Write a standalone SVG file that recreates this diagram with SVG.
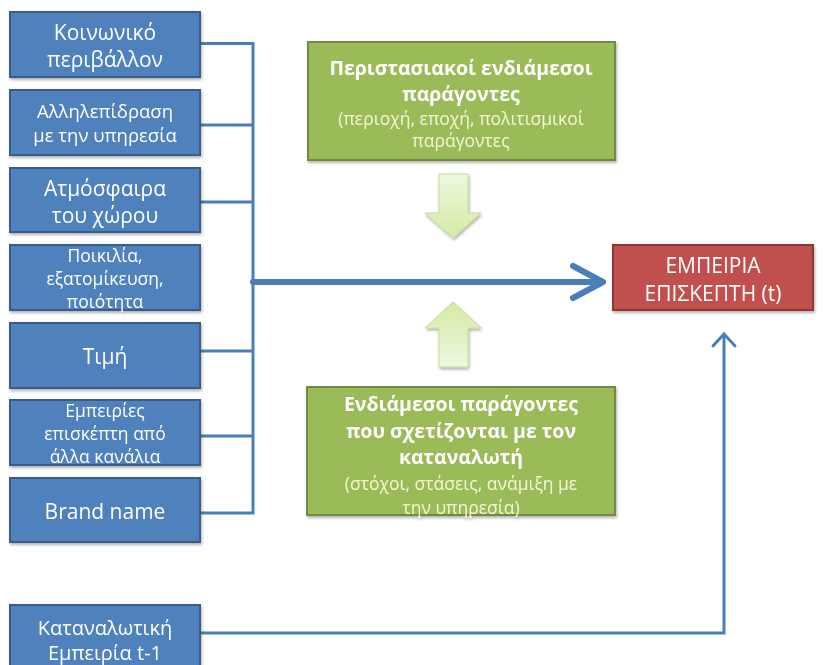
<svg xmlns="http://www.w3.org/2000/svg" width="823" height="665" viewBox="0 0 823 665">
  <defs>
    <filter id="shadow" x="-10%" y="-10%" width="125%" height="135%">
      <feDropShadow dx="1" dy="2" stdDeviation="1.5" flood-color="#000" flood-opacity="0.3"/>
    </filter>
    <linearGradient id="gDown" x1="0" y1="0" x2="0" y2="1">
      <stop offset="0" stop-color="#EEF8DE"/>
      <stop offset="1" stop-color="#D3EBA5"/>
    </linearGradient>
    <linearGradient id="gUp" x1="0" y1="1" x2="0" y2="0">
      <stop offset="0" stop-color="#EEF8DE"/>
      <stop offset="1" stop-color="#D3EBA5"/>
    </linearGradient>
    <style>
      .blue { fill: #4F81BD; stroke: #385D8A; stroke-width: 2; }
      .green { fill: #9BBB59; stroke: #71893F; stroke-width: 2; }
      .red { fill: #C0504D; stroke: #8C3836; stroke-width: 2; }
      .lbl { font-family: "Open Sans", "Noto Sans", "DejaVu Sans", sans-serif; fill: #FFFFFF; text-anchor: middle; dominant-baseline: central; }
      .box { font-size: 21px; }
      .low { font-size: 20px; }
      .mid { font-size: 18.5px; }
      .tight { font-size: 17.5px; }
      .bold { font-size: 19.5px; font-weight: bold; }
      .sub { font-size: 17.5px; fill: #F6F6D6; }
      .wire { fill: none; stroke: #4A7EBB; stroke-width: 3; stroke-linejoin: miter; }
      .big { fill: none; stroke: #4A7EBB; stroke-width: 6; stroke-linecap: round; stroke-linejoin: round; }
      .blk { stroke: #C3DC98; stroke-width: 1; }
    </style>
  </defs>

  <!-- connectors -->
  <g id="connectors">
    <path class="wire" d="M200 43.5 H253 M200 125 H253 M200 202 H253 M200 351 H253 M200 436 H253 M200 513 H253 M253 42 V514.5"/>
    <path class="big" d="M253 282 H600 M573 266 L603 282 L573 298"/>
    <path class="wire" d="M200 633 H724 V334"/>
    <path class="wire" stroke-linecap="round" d="M713 346 L724 334 L735 346"/>
  </g>

  <!-- left column -->
  <g id="n-koinoniko" filter="url(#shadow)">
    <rect class="blue" x="10" y="12" width="190" height="65"/>
    <text class="lbl box" x="105" y="32">Κοινωνικό</text>
    <text class="lbl box" x="105" y="59">περιβάλλον</text>
  </g>
  <g id="n-allilepidrasi" filter="url(#shadow)">
    <rect class="blue" x="10" y="90" width="190" height="65"/>
    <text class="lbl mid" x="105" y="110">Αλληλεπίδραση</text>
    <text class="lbl mid" x="105" y="134">με την υπηρεσία</text>
  </g>
  <g id="n-atmosfaira" filter="url(#shadow)">
    <rect class="blue" x="10" y="168" width="190" height="64"/>
    <text class="lbl box" x="105" y="188">Ατμόσφαιρα</text>
    <text class="lbl box" x="105" y="215">του χώρου</text>
  </g>
  <g id="n-poikilia" filter="url(#shadow)">
    <rect class="blue" x="10" y="245" width="190" height="65"/>
    <text class="lbl tight" x="105" y="255">Ποικιλία,</text>
    <text class="lbl tight" x="105" y="278">εξατομίκευση,</text>
    <text class="lbl tight" x="105" y="301">ποιότητα</text>
  </g>
  <g id="n-timi" filter="url(#shadow)">
    <rect class="blue" x="10" y="323" width="190" height="65"/>
    <text class="lbl box" x="105" y="356">Τιμή</text>
  </g>
  <g id="n-empeiries" filter="url(#shadow)">
    <rect class="blue" x="10" y="400" width="190" height="65"/>
    <text class="lbl tight" x="105" y="410">Εμπειρίες</text>
    <text class="lbl tight" x="105" y="433">επισκέπτη από</text>
    <text class="lbl tight" x="105" y="456">άλλα κανάλια</text>
  </g>
  <g id="n-brand" filter="url(#shadow)">
    <rect class="blue" x="10" y="478" width="190" height="64"/>
    <text class="lbl box" x="105" y="511">Brand name</text>
  </g>
  <g id="n-katanalotiki" filter="url(#shadow)">
    <rect class="blue" x="10" y="605" width="190" height="70"/>
    <text class="lbl low" x="105" y="627">Καταναλωτική</text>
    <text class="lbl low" x="105" y="652">Εμπειρία t-1</text>
  </g>

  <!-- mediating factors -->
  <g id="n-peristasiakoi" filter="url(#shadow)">
    <rect class="green" x="308" y="42" width="307" height="118"/>
    <text class="lbl bold" x="461" y="67">Περιστασιακοί  ενδιάμεσοι</text>
    <text class="lbl bold" x="461" y="93">παράγοντες</text>
    <text class="lbl sub" x="461" y="118">(περιοχή, εποχή, πολιτισμικοί</text>
    <text class="lbl sub" x="461" y="140">παράγοντες</text>
  </g>
  <g id="n-endiamesoi" filter="url(#shadow)">
    <rect class="green" x="307" y="387" width="308" height="128"/>
    <text class="lbl bold" x="461" y="403">Ενδιάμεσοι παράγοντες</text>
    <text class="lbl bold" x="461" y="430">που σχετίζονται  με τον</text>
    <text class="lbl bold" x="461" y="456">καταναλωτή</text>
    <text class="lbl sub" x="461" y="483">(στόχοι, στάσεις, ανάμιξη με</text>
    <text class="lbl sub" x="461" y="507">την υπηρεσία)</text>
  </g>

  <!-- block arrows -->
  <g id="arrow-down" filter="url(#shadow)">
    <path class="blk" fill="url(#gDown)" d="M439 174 H468 V213 H481 L453 238 L425 213 H439 Z"/>
  </g>
  <g id="arrow-up" filter="url(#shadow)">
    <path class="blk" fill="url(#gUp)" d="M453 302 L481 328 H468 V367 H439 V328 H425 Z"/>
  </g>

  <!-- outcome -->
  <g id="n-empeiria" filter="url(#shadow)">
    <rect class="red" x="613" y="245" width="200" height="65"/>
    <text class="lbl box" x="713" y="265">ΕΜΠΕΙΡΙΑ</text>
    <text class="lbl box" x="713" y="293">ΕΠΙΣΚΕΠΤΗ (t)</text>
  </g>
</svg>
